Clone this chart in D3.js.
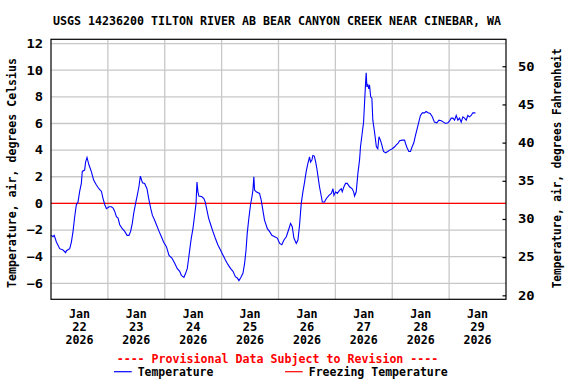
<!DOCTYPE html>
<html><head><meta charset="utf-8">
<script src="https://cdn.jsdelivr.net/npm/d3@7"></script>
<style>
body{margin:0;background:#fff;}
text{font-family:"DejaVu Sans Mono",monospace;font-weight:bold;}
</style></head>
<body><svg id="c" width="576" height="384"></svg>
<script>
const title = "USGS 14236200 TILTON RIVER AB BEAR CANYON CREEK NEAR CINEBAR, WA";
const leftLabel = "Temperature, air, degrees Celsius";
const rightLabel = "Temperature, air, degrees Fahrenheit";
const provisional = "---- Provisional Data Subject to Revision ----";
const legendNames = ["Temperature", "Freezing Temperature"];
const celsiusTicks = [-6,-4,-2,0,2,4,6,8,10,12];
const fahrenheitTicks = [20,25,30,35,40,45,50];
const dayTicks = ["2026-01-22","2026-01-23","2026-01-24","2026-01-25","2026-01-26","2026-01-27","2026-01-28","2026-01-29"];
const freezingC = 0;
// hours since 2026-01-22 00:00
const hours = [0,0.84,1.35,2.28,3.67,5.06,6.2,6.5,7.9,8.6,9.3,10.0,10.7,11.4,12.1,12.8,13.2,14.2,14.6,15.2,16.0,17.0,18.0,19.1,20.2,21.3,21.9,22.7,23.4,24.5,25.5,26.2,26.9,27.6,28.3,29.0,30.1,31.1,32.1,32.9,33.6,34.3,34.9,35.7,36.4,37.1,37.7,38.6,39.5,40.5,41.2,42.1,42.8,43.7,44.5,45.6,46.6,47.5,48.7,49.8,51.0,52.2,53.3,54.3,55.0,56.1,56.8,57.5,58.1,58.6,59.2,59.9,60.6,61.2,61.6,62.0,62.4,63.7,64.5,65.1,65.8,66.5,67.4,68.3,69.3,70.4,71.5,72.6,73.6,74.7,75.8,76.8,77.8,78.6,79.3,80.0,81.0,81.7,82.3,82.8,83.5,84.2,84.8,85.2,85.6,85.9,86.6,88.0,88.7,89.4,90.1,91.3,92.2,93.2,94.4,95.5,96.5,97.4,98.3,99.3,100.4,101.1,101.8,102.5,103.5,104.2,104.9,105.6,106.3,107.0,107.7,108.4,109.1,109.5,110.1,110.5,111.1,111.7,112.2,112.9,113.3,114.1,114.5,115.4,116.2,117.3,118.3,119.0,119.4,120.1,120.8,121.8,122.5,122.9,123.6,124.3,125.0,126.0,127.1,127.7,128.1,128.8,129.5,130.2,130.6,131.2,131.9,132.3,132.7,133.0,133.3,133.7,134.1,134.4,134.9,135.4,135.8,136.5,137.3,137.9,138.4,139.0,139.6,140.3,141.2,142.1,142.9,144.0,145.0,145.7,146.4,147.1,148.2,149.2,149.6,150.2,151.0,151.7,152.4,153.1,153.8,154.5,155.2,155.9,156.7,157.6,158.3,159.1,160.0,160.9,161.8,162.8,163.7,164.7,165.6,166.5,167.5,168.2,168.9,169.6,170.3,171.0,171.7,172.4,173.1,173.8,174.5,175.2,175.9,176.6,177.3,178.0,179.1];
const tempC = [-2.38,-2.5,-2.4,-2.9,-3.4,-3.5,-3.7,-3.55,-3.4,-2.9,-2.1,-1.0,-0.1,0.1,0.9,1.5,2.4,2.5,3.1,3.45,2.9,2.4,1.75,1.4,1.1,0.9,0.4,-0.1,-0.4,-0.25,-0.25,-0.35,-0.6,-1.0,-1.1,-1.6,-1.9,-2.1,-2.4,-2.4,-2.1,-1.5,-0.75,0.0,0.6,1.25,2.05,1.55,1.5,1.1,0.4,-0.4,-0.9,-1.25,-1.6,-2.1,-2.5,-2.9,-3.25,-3.9,-4.1,-4.5,-4.9,-5.1,-5.4,-5.55,-5.25,-4.9,-4.1,-3.4,-2.6,-1.9,-0.9,0.0,1.6,0.87,0.55,0.5,0.37,0.1,-0.5,-1.1,-1.6,-2.1,-2.6,-3.1,-3.5,-3.9,-4.25,-4.6,-4.9,-5.1,-5.5,-5.6,-5.8,-5.6,-5.25,-4.5,-3.5,-2.25,-1.1,-0.1,0.5,1.0,2.0,1.0,0.87,0.75,0.25,-0.5,-1.25,-1.9,-2.1,-2.4,-2.5,-2.6,-3.0,-3.1,-2.75,-2.5,-1.9,-1.5,-1.75,-2.6,-3.0,-2.75,-1.6,0.0,0.87,1.6,2.4,3.0,3.5,3.1,3.25,3.6,3.55,3.1,2.6,1.75,1.25,0.5,0.1,0.1,0.37,0.6,0.75,1.1,0.6,0.87,0.75,1.0,1.1,0.87,1.25,1.5,1.5,1.25,1.1,0.87,0.55,0.87,2.25,3.25,4.25,5.1,6.1,7.5,8.9,9.8,8.75,8.9,8.6,8.9,8.0,7.9,6.25,5.4,4.25,4.1,5.0,4.75,4.4,3.9,3.8,3.9,4.0,4.1,4.25,4.4,4.5,4.7,4.75,4.75,4.5,4.2,3.9,3.9,4.25,4.55,5.1,5.6,6.1,6.6,6.8,6.8,6.9,6.8,6.75,6.5,6.1,6.05,6.25,6.2,6.1,6.0,6.05,6.2,6.4,6.4,6.25,6.6,6.25,6.4,6.1,6.5,6.4,6.25,6.6,6.5,6.6,6.8,6.8];

const svg = d3.select("#c");
const m = {l:51, t:39.3, r:506, b:299.3};
const W = m.r - m.l, H = m.b - m.t;
const g = svg.append("g").attr("transform", `translate(${m.l},${m.t})`);

const t0 = Date.UTC(2026,0,22);
const x = d3.scaleUtc().domain([new Date(t0), new Date(Date.UTC(2026,0,30))]).range([0, W]);
const y = d3.scaleLinear().domain([-7.2, 12.32]).range([H, 0]);
const yF = d3.scaleLinear().domain([19.48, 53.53]).range([H, 0]);

const days = dayTicks.map(s => new Date(s + "T00:00:00Z"));

// gridlines
g.append("g").selectAll("line").data(celsiusTicks).join("line")
  .attr("x1",0).attr("x2",W).attr("y1",d=>y(d)).attr("y2",d=>y(d))
  .attr("stroke","#c8c8c8").attr("stroke-width",1.3);
g.append("g").selectAll("line").data(days.slice(1)).join("line")
  .attr("y1",0).attr("y2",H).attr("x1",d=>x(d)).attr("x2",d=>x(d))
  .attr("stroke","#c8c8c8").attr("stroke-width",1.3);

// freezing line
g.append("line").attr("x1",0).attr("x2",W).attr("y1",y(freezingC)).attr("y2",y(freezingC))
  .attr("stroke","#ff0000").attr("stroke-width",1.3);

// data line
const data = hours.map((h,i)=>({t:new Date(t0 + h*3600e3), v:tempC[i]}));
g.append("path").datum(data)
  .attr("fill","none").attr("stroke","#0000ff").attr("stroke-width",1.1)
  .attr("d", d3.line().x(d=>x(d.t)).y(d=>y(d.v)));

// frame
g.append("rect").attr("x",0).attr("y",0).attr("width",W).attr("height",H)
  .attr("fill","none").attr("stroke","#000").attr("stroke-width",1.2);

// left axis labels
const la = g.append("g").call(d3.axisLeft(y).tickValues(celsiusTicks).tickSize(0).tickPadding(8));
la.select(".domain").remove();
la.selectAll("text").attr("font-size",12).attr("fill","#000")
  .attr("font-family","DejaVu Sans Mono").attr("font-weight","bold")
  .attr("textLength", d => String(d).length*8.3).attr("lengthAdjust","spacingAndGlyphs");

// right axis
const ra = g.append("g").attr("transform",`translate(${W},0)`)
  .call(d3.axisRight(yF).tickValues(fahrenheitTicks).tickSize(-3.5).tickPadding(12));
ra.select(".domain").remove();
ra.selectAll(".tick line").attr("stroke","#000").attr("stroke-width",1.2);
ra.selectAll("text").attr("font-size",12).attr("fill","#000")
  .attr("font-family","DejaVu Sans Mono").attr("font-weight","bold")
  .attr("textLength", d => String(d).length*8.3).attr("lengthAdjust","spacingAndGlyphs");

// bottom labels at noon
const fmtM = d3.utcFormat("%b"), fmtD = d3.utcFormat("%-d"), fmtY = d3.utcFormat("%Y");
const xl = g.append("g").selectAll("text").data(days).join("text")
  .attr("text-anchor","middle").attr("font-size",12)
  .attr("transform", d => `translate(${x(new Date(+d + 12*3600e3))},${H})`);
xl.append("tspan").attr("x",0).attr("y",18.7).attr("textLength",21).attr("lengthAdjust","spacingAndGlyphs").text(d=>fmtM(d));
xl.append("tspan").attr("x",0).attr("y",31.4).attr("textLength",14.5).attr("lengthAdjust","spacingAndGlyphs").text(d=>fmtD(d));
xl.append("tspan").attr("x",0).attr("y",44.7).attr("textLength",28).attr("lengthAdjust","spacingAndGlyphs").text(d=>fmtY(d));

// title
svg.append("text").attr("x",277).attr("y",25).attr("text-anchor","middle")
  .attr("font-size",12.5).attr("textLength",448).attr("lengthAdjust","spacingAndGlyphs").text(title);

// axis titles
svg.append("text").attr("transform","translate(15.5,173) rotate(-90)").attr("text-anchor","middle")
  .attr("font-size",11.5).attr("textLength",230).attr("lengthAdjust","spacingAndGlyphs").text(leftLabel);
svg.append("text").attr("transform","translate(560.5,168.3) rotate(-90)").attr("text-anchor","middle")
  .attr("font-size",11.5).attr("textLength",240).attr("lengthAdjust","spacingAndGlyphs").text(rightLabel);

// provisional
svg.append("text").attr("x",277.5).attr("y",363).attr("text-anchor","middle").attr("fill","#ff0000")
  .attr("font-size",12).attr("textLength",321.7).attr("lengthAdjust","spacingAndGlyphs").text(provisional);

// legend
const legendColors = ["#0000ff","#ff0000"];
const legendX = [114, 285];
const legendLen = [75.7, 139];
const lg = svg.append("g").selectAll("g").data(legendNames).join("g");
lg.append("line").attr("x1",(d,i)=>legendX[i]).attr("x2",(d,i)=>legendX[i]+17.7)
  .attr("y1",371.7).attr("y2",371.7).attr("stroke",(d,i)=>legendColors[i]).attr("stroke-width",1.2);
lg.append("text").attr("x",(d,i)=>legendX[i]+23.7).attr("y",375.8).attr("font-size",12)
  .attr("textLength",(d,i)=>legendLen[i]).attr("lengthAdjust","spacingAndGlyphs").text(d=>d);
</script></body></html>
